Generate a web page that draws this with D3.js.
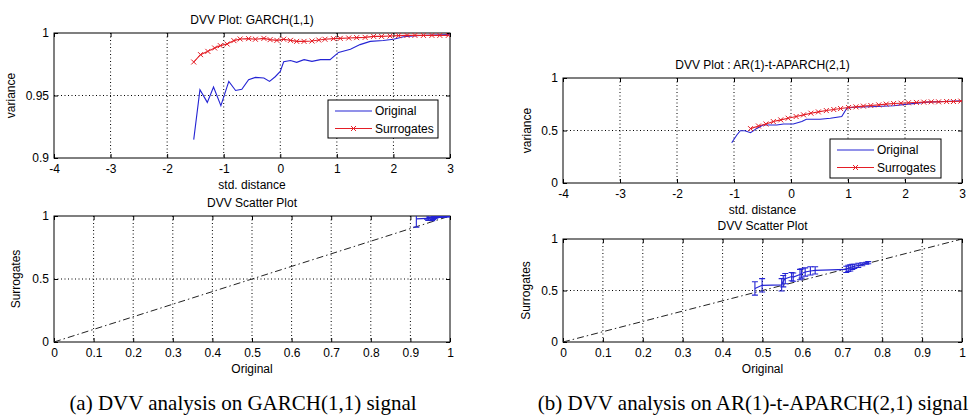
<!DOCTYPE html>
<html>
<head>
<meta charset="utf-8">
<script src="https://cdn.jsdelivr.net/npm/d3@7"></script>
<style>
  body { margin: 0; background: #fff; }
  svg text { font-family: "Liberation Sans", Arial, sans-serif; fill: #000; }
  .caption { font-family: "Liberation Serif", "Times New Roman", serif; }
</style>
</head>
<body>
<svg id="chart" width="973" height="416"></svg>
<script>
// ---- data ----
// (a) GARCH(1,1): DVV curve
const garchOrigDist = [-1.53, -1.42, -1.29, -1.18, -1.05, -0.91, -0.79, -0.68, -0.56, -0.44, -0.29, -0.19, -0.09, 0.0, 0.06, 0.18, 0.29, 0.42, 0.56, 0.71, 0.88, 1.03, 1.24, 1.41, 1.59, 1.82, 2.0, 2.18, 2.47, 3.0];
const garchOrigVar = [0.9147, 0.9547, 0.9445, 0.9568, 0.9419, 0.9613, 0.954, 0.955, 0.9627, 0.9645, 0.964, 0.9613, 0.965, 0.9693, 0.977, 0.978, 0.9765, 0.9787, 0.9773, 0.9787, 0.9787, 0.9845, 0.987, 0.9907, 0.9933, 0.994, 0.995, 0.997, 0.998, 0.9987];
const garchSurrDist = [-1.53, -1.41, -1.28, -1.16, -1.06, -0.94, -0.82, -0.71, -0.56, -0.44, -0.29, -0.18, -0.06, 0.06, 0.18, 0.29, 0.42, 0.56, 0.68, 0.79, 0.94, 1.06, 1.21, 1.35, 1.5, 1.65, 1.79, 1.94, 2.09, 2.24, 2.38, 2.53, 2.68, 2.82, 2.97];
const garchSurrVar = [0.9768, 0.9827, 0.9853, 0.988, 0.9899, 0.9912, 0.9939, 0.9952, 0.9955, 0.995, 0.9957, 0.9947, 0.9941, 0.995, 0.9941, 0.9933, 0.9933, 0.9936, 0.9944, 0.995, 0.9955, 0.9957, 0.996, 0.9963, 0.9965, 0.9973, 0.9973, 0.9976, 0.9979, 0.9981, 0.9981, 0.9981, 0.9981, 0.9981, 0.9981];
// (a) scatter: original vs surrogate mean with error bars
const garchScatX = [0.915, 0.955, 0.945, 0.957, 0.942, 0.961, 0.954, 0.963, 0.965, 0.977, 0.979, 0.985, 0.993, 0.997, 0.999];
const garchScatY = [0.977, 0.983, 0.985, 0.988, 0.99, 0.991, 0.994, 0.995, 0.995, 0.995, 0.994, 0.996, 0.997, 0.998, 0.998];
const garchScatErr = [0.065, 0.02, 0.02, 0.015, 0.015, 0.012, 0.01, 0.008, 0.008, 0.006, 0.006, 0.005, 0.004, 0.003, 0.002];

// (b) AR(1)-t-APARCH(2,1)
const arOrigDist = [-1.04, -0.95, -0.89, -0.81, -0.71, -0.6, -0.49, -0.37, -0.25, -0.13, 0.04, 0.19, 0.27, 0.51, 0.69, 0.89, 0.98, 1.1, 1.51, 1.8, 2.09, 2.39, 2.68, 3.0];
const arOrigVar = [0.383, 0.457, 0.498, 0.498, 0.479, 0.52, 0.553, 0.553, 0.553, 0.562, 0.562, 0.585, 0.607, 0.607, 0.617, 0.633, 0.712, 0.722, 0.728, 0.735, 0.754, 0.77, 0.776, 0.783];
const arSurrDist = [-0.71, -0.57, -0.44, -0.31, -0.18, -0.05, 0.09, 0.22, 0.35, 0.48, 0.62, 0.75, 0.87, 1.01, 1.14, 1.27, 1.4, 1.54, 1.67, 1.8, 1.93, 2.06, 2.2, 2.33, 2.46, 2.59, 2.73, 2.85, 2.98];
const arSurrVar = [0.518, 0.543, 0.562, 0.585, 0.601, 0.617, 0.633, 0.649, 0.665, 0.677, 0.69, 0.7, 0.709, 0.719, 0.725, 0.732, 0.738, 0.744, 0.751, 0.757, 0.76, 0.764, 0.767, 0.77, 0.773, 0.773, 0.776, 0.776, 0.78];
const arScatX = [0.481, 0.499, 0.548, 0.552, 0.557, 0.573, 0.577, 0.594, 0.598, 0.607, 0.62, 0.632, 0.71, 0.715, 0.72, 0.725, 0.73, 0.74, 0.75, 0.76, 0.765];
const arScatY = [0.52, 0.55, 0.555, 0.59, 0.615, 0.635, 0.63, 0.655, 0.665, 0.68, 0.69, 0.695, 0.705, 0.715, 0.72, 0.73, 0.735, 0.745, 0.755, 0.765, 0.77];
const arScatErr = [0.065, 0.065, 0.06, 0.055, 0.05, 0.04, 0.04, 0.05, 0.045, 0.04, 0.04, 0.035, 0.03, 0.03, 0.03, 0.025, 0.02, 0.02, 0.015, 0.01, 0.01];

// tick values
const distTicks = [-4, -3, -2, -1, 0, 1, 2, 3];
const garchVarTicks = [0.9, 0.95, 1];
const unitTicks = [0, 0.5, 1];
const origTicks = [0, 0.1, 0.2, 0.3, 0.4, 0.5, 0.6, 0.7, 0.8, 0.9, 1];

const svg = d3.select('#chart');
const BLUE = '#2424d4';
const RED = '#e41e26';
let clipId = 0;

// one MATLAB style axes box: frame, dotted grid, inward ticks, labels
function axesBox(box, xDom, yDom, xTicks, yTicks, title, xLabel, yLabel) {
  const x = d3.scaleLinear().domain(xDom).range([box.x0, box.x1]);
  const y = d3.scaleLinear().domain(yDom).range([box.y1, box.y0]);
  const g = svg.append('g');

  // grid
  g.selectAll('.gx').data(xTicks.slice(1, -1)).join('line')
    .attr('x1', d => x(d)).attr('x2', d => x(d))
    .attr('y1', box.y0).attr('y2', box.y1)
    .attr('stroke', '#000').attr('stroke-width', 1).attr('stroke-dasharray', '1,2.5');
  g.selectAll('.gy').data(yTicks.slice(1, -1)).join('line')
    .attr('x1', box.x0).attr('x2', box.x1)
    .attr('y1', d => y(d)).attr('y2', d => y(d))
    .attr('stroke', '#000').attr('stroke-width', 1).attr('stroke-dasharray', '1,2.5');

  // axes via d3 (inward ticks), top/right mirrored
  const tl = 4;
  const xa = g.append('g').attr('transform', `translate(0,${box.y1})`)
    .call(d3.axisBottom(x).tickValues(xTicks).tickSize(-tl).tickPadding(6).tickFormat(d => String(d)));
  g.append('g').attr('transform', `translate(${box.x0},0)`)
    .call(d3.axisLeft(y).tickValues(yTicks).tickSize(-tl).tickPadding(5).tickFormat(d => String(d)));
  g.append('g').attr('transform', `translate(0,${box.y0})`)
    .call(d3.axisTop(x).tickValues(xTicks).tickSize(-tl).tickFormat(''));
  g.append('g').attr('transform', `translate(${box.x1},0)`)
    .call(d3.axisRight(y).tickValues(yTicks).tickSize(-tl).tickFormat(''));
  g.selectAll('.domain').remove();
  g.selectAll('.tick line').attr('stroke', '#000');
  g.selectAll('.tick text').attr('font-size', 12).attr('font-family', '"Liberation Sans", Arial, sans-serif').attr('fill', '#000');
  xa.selectAll('.tick text').attr('dy', '0.71em');

  g.append('rect').attr('x', box.x0).attr('y', box.y0)
    .attr('width', box.x1 - box.x0).attr('height', box.y1 - box.y0)
    .attr('fill', 'none').attr('stroke', '#000').attr('stroke-width', 1);

  const cx = (box.x0 + box.x1) / 2;
  g.append('text').attr('x', cx).attr('y', box.y0 - 9).attr('text-anchor', 'middle')
    .attr('font-size', 12).text(title);
  g.append('text').attr('x', cx).attr('y', box.y1 + 31).attr('text-anchor', 'middle')
    .attr('font-size', 12).text(xLabel);
  g.append('text').attr('transform', `translate(${box.x0 - box.yl},${(box.y0 + box.y1) / 2}) rotate(-90)`)
    .attr('text-anchor', 'middle').attr('font-size', 12).text(yLabel);

  // clip for the data
  const id = 'clip' + (clipId++);
  svg.append('clipPath').attr('id', id).append('rect')
    .attr('x', box.x0).attr('y', box.y0).attr('width', box.x1 - box.x0).attr('height', box.y1 - box.y0);
  const plot = svg.append('g').attr('clip-path', `url(#${id})`);
  return { x, y, plot };
}

function dvvPanel(box, yDom, yTicks, title, od, ov, sd, sv, leg) {
  const { x, y, plot } = axesBox(box, [-4, 3], yDom, distTicks, yTicks, title, 'std. distance', 'variance');
  const line = d3.line().x(d => x(d[0])).y(d => y(d[1]));
  plot.append('path').datum(d3.zip(od, ov)).attr('d', line)
    .attr('fill', 'none').attr('stroke', BLUE).attr('stroke-width', 1.1);
  const surr = d3.zip(sd, sv);
  plot.append('path').datum(surr).attr('d', line)
    .attr('fill', 'none').attr('stroke', RED).attr('stroke-width', 1.1);
  plot.selectAll('.mk').data(surr).join('path')
    .attr('d', d => { const px = x(d[0]), py = y(d[1]), s = 2.5;
      return `M${px - s},${py - s}L${px + s},${py + s}M${px - s},${py + s}L${px + s},${py - s}`; })
    .attr('stroke', RED).attr('stroke-width', 1);

  // legend
  const lg = svg.append('g');
  lg.append('rect').attr('x', leg.x).attr('y', leg.y).attr('width', leg.w).attr('height', leg.h)
    .attr('fill', '#fff').attr('stroke', '#000').attr('stroke-width', 1);
  const rows = [['Original', BLUE, false], ['Surrogates', RED, true]];
  rows.forEach((r, i) => {
    const ry = leg.y + 11 + i * 17.5;
    lg.append('line').attr('x1', leg.x + 7).attr('x2', leg.x + 44).attr('y1', ry).attr('y2', ry)
      .attr('stroke', r[1]).attr('stroke-width', 1.1);
    if (r[2]) {
      const mx = leg.x + 25.5, s = 2.5;
      lg.append('path').attr('d', `M${mx - s},${ry - s}L${mx + s},${ry + s}M${mx - s},${ry + s}L${mx + s},${ry - s}`)
        .attr('stroke', r[1]).attr('stroke-width', 1);
    }
    lg.append('text').attr('x', leg.x + 47).attr('y', ry + 4.3).attr('font-size', 12).text(r[0]);
  });
}

function scatterPanel(box, sx, sy, se) {
  const { x, y, plot } = axesBox(box, [0, 1], [0, 1], origTicks, unitTicks, 'DVV Scatter Plot', 'Original', 'Surrogates');
  // diagonal, dash-dot
  plot.append('line').attr('x1', x(0)).attr('y1', y(0)).attr('x2', x(1)).attr('y2', y(1))
    .attr('stroke', '#222').attr('stroke-width', 1).attr('stroke-dasharray', '7,3,1.5,3');
  const pts = d3.zip(sx, sy, se);
  plot.append('path').datum(pts).attr('d', d3.line().x(d => x(d[0])).y(d => y(d[1])))
    .attr('fill', 'none').attr('stroke', BLUE).attr('stroke-width', 1.1);
  const cap = 3;
  plot.selectAll('.eb').data(pts).join('path')
    .attr('d', d => { const px = x(d[0]), t = y(d[1] + d[2]), b = y(d[1] - d[2]);
      return `M${px},${t}L${px},${b}M${px - cap},${t}L${px + cap},${t}M${px - cap},${b}L${px + cap},${b}`; })
    .attr('fill', 'none').attr('stroke', BLUE).attr('stroke-width', 1.1);
}

// (a)
dvvPanel({ x0: 54, x1: 450, y0: 33, y1: 158, yl: 39 }, [0.9, 1], garchVarTicks, 'DVV Plot: GARCH(1,1)',
  garchOrigDist, garchOrigVar, garchSurrDist, garchSurrVar, { x: 328, y: 100, w: 110, h: 38 });
scatterPanel({ x0: 54, x1: 450, y0: 216, y1: 342, yl: 34 }, garchScatX, garchScatY, garchScatErr);

// (b)
dvvPanel({ x0: 563, x1: 962, y0: 78, y1: 183, yl: 32 }, [0, 1], unitTicks, 'DVV Plot : AR(1)-t-APARCH(2,1)',
  arOrigDist, arOrigVar, arSurrDist, arSurrVar, { x: 830, y: 139, w: 111, h: 39 });
scatterPanel({ x0: 563, x1: 962, y0: 239, y1: 342, yl: 33 }, arScatX, arScatY, arScatErr);

// captions
svg.append('text').attr('class', 'caption').attr('x', 243).attr('y', 410).attr('text-anchor', 'middle')
  .attr('font-size', 21).text('(a) DVV analysis on GARCH(1,1) signal');
svg.append('text').attr('class', 'caption').attr('x', 753).attr('y', 410).attr('text-anchor', 'middle')
  .attr('font-size', 21).text('(b) DVV analysis on AR(1)-t-APARCH(2,1) signal');
</script>
</body>
</html>
